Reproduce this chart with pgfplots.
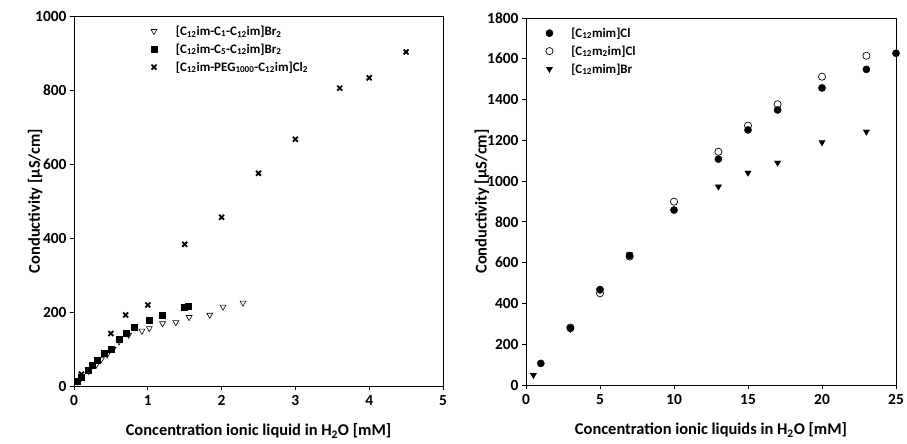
\documentclass[border=0pt]{standalone}
\usepackage{fontspec}
\setmainfont{Carlito}
\usepackage{pgfplots}
\pgfplotsset{compat=1.18}
\pgfplotsset{
  common/.style={
    scale only axis,
    tick align=outside,
    xtick pos=bottom, ytick pos=left,
    major tick length=4bp,
    axis line style={line width=0.8pt},
    every tick/.style={line width=0.8pt, black},
    /pgf/number format/assume math mode=true,
    /pgf/number format/1000 sep={},
    ticklabel style={font=\bfseries\fontsize{15.5}{17}\selectfont},
    xticklabel style={yshift=-2bp},
    label style={font=\bfseries\fontsize{16.5}{18}\selectfont},
    xlabel style={at={(axis description cs:0.5,0)}, anchor=center, yshift=-45bp},
    legend style={draw=none, fill=none, font=\bfseries\fontsize{13}{15}\selectfont,
      anchor=north west, row sep=3bp, legend cell align=left},
    legend cell align=left,
    legend image code/.code={\draw[##1] plot coordinates {(0cm,0cm)}; \path[draw=none, fill=none] (0cm,0cm) -- (0.7cm,0cm);},
  }
}
\begin{document}
\begin{tikzpicture}
\useasboundingbox (0,0) rectangle (907bp,444bp);
\begin{axis}[common,
  at={(74bp,58bp)}, anchor=south west,
  width=369bp, height=370bp,
  xmin=0, xmax=5, ymin=0, ymax=1000,
  xtick={0,1,2,3,4,5}, ytick={0,200,400,600,800,1000},
  xlabel={Concentration ionic liquid in H\textsubscript{2}O [mM]},
  ylabel={Conductivity [µS/cm]},
  ylabel style={at={(axis description cs:-0.105,0.5)}, anchor=center},
  legend style={at={(0.2,0.985)}},
]
\addplot[only marks, mark=triangle, mark size=3.4bp, mark options={rotate=180, fill=white, line width=0.6pt}] coordinates {
(0.05,12) (0.10,22) (0.20,40) (0.30,57) (0.37,72) (0.45,85) (0.53,100) (0.61,120)
(0.74,138) (0.92,149) (1.02,156) (1.20,169) (1.38,172) (1.56,186) (1.84,192) (2.02,214) (2.29,225)
};
\addlegendentry{[C\textsubscript{12}im-C\textsubscript{1}-C\textsubscript{12}im]Br\textsubscript{2}}
\addplot[only marks, mark=square*, mark size=3bp] coordinates {
(0.04,13) (0.10,25) (0.19,43) (0.25,57) (0.32,70) (0.41,88) (0.50,99) (0.61,127)
(0.71,142) (0.81,158) (1.02,177) (1.20,192) (1.49,214) (1.55,216)
};
\addlegendentry{[C\textsubscript{12}im-C\textsubscript{5}-C\textsubscript{12}im]Br\textsubscript{2}}
\addplot[only marks, mark=x, mark size=3.5bp, mark options={line width=1.8pt}] coordinates {
(0.1,32) (0.5,142) (0.7,192) (1.0,219) (1.5,383) (2.0,456) (2.5,575) (3.0,667) (3.6,805) (4.0,833) (4.5,903)
};
\addlegendentry{[C\textsubscript{12}im-PEG\textsubscript{1000}-C\textsubscript{12}im]Cl\textsubscript{2}}
\end{axis}
\begin{axis}[common,
  at={(526bp,59bp)}, anchor=south west,
  width=370bp, height=367bp,
  xmin=0, xmax=25, ymin=0, ymax=1800,
  xtick={0,5,10,15,20,25}, ytick={0,200,...,1800},
  xlabel={Concentration ionic liquids in H\textsubscript{2}O [mM]},
  ylabel={Conductivity [µS/cm]},
  ylabel style={at={(axis description cs:-0.119,0.5)}, anchor=center},
  legend style={at={(0.045,0.985)}},
]
\addplot[only marks, mark=*, mark size=3.6bp] coordinates {
(1,106) (3,278) (5,468) (7,635) (10,858) (13,1108) (15,1251) (17,1349) (20,1457) (23,1548) (25,1627)
};
\addlegendentry{[C\textsubscript{12}mim]Cl}
\addplot[only marks, mark=o, mark size=3.6bp, mark options={fill=white, line width=0.7pt}] coordinates {
(3,282) (5,450) (7,630) (10,899) (13,1144) (15,1272) (17,1377) (20,1512) (23,1615)
};
\addlegendentry{[C\textsubscript{12}m\textsubscript{2}im]Cl}
\addplot[only marks, mark=triangle*, mark size=3.6bp, mark options={rotate=180}] coordinates {
(0.5,49) (3,275) (5,465) (7,640) (13,973) (15,1041) (17,1090) (20,1190) (23,1242)
};
\addlegendentry{[C\textsubscript{12}mim]Br}
\end{axis}
\end{tikzpicture}
\end{document}
